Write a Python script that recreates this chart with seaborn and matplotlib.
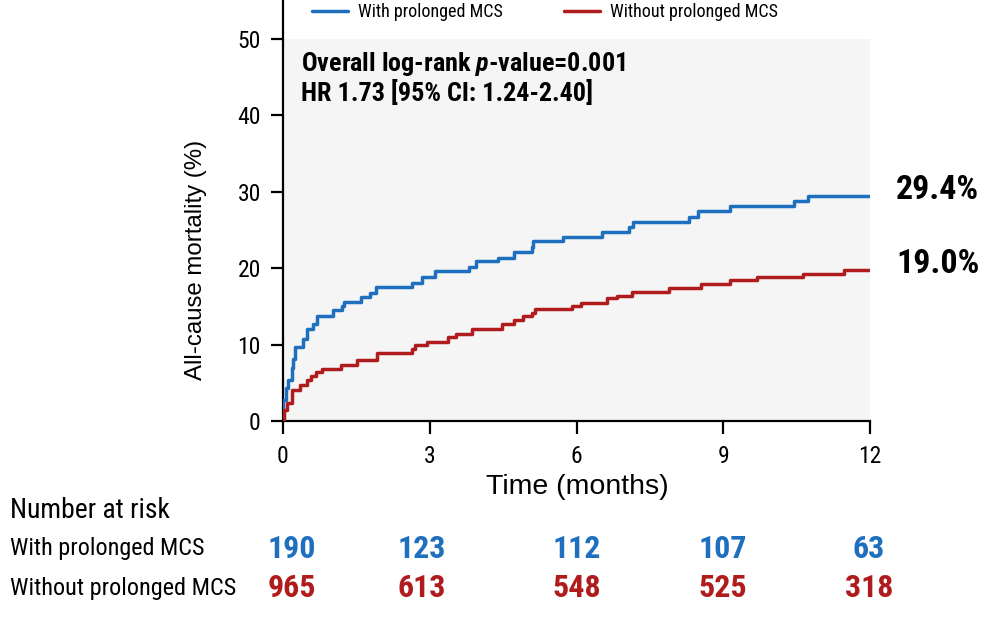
import matplotlib
matplotlib.use("Agg")
import matplotlib.pyplot as plt
from matplotlib import font_manager
from matplotlib.transforms import blended_transform_factory, offset_copy
import seaborn as sns
import pandas as pd

# ---------------- data ----------------
groups = ["With prolonged MCS", "Without prolonged MCS"]
blue_time = [0, 0.01, 0.055, 0.11, 0.18, 0.21, 0.25, 0.40, 0.50, 0.62, 0.69, 1.02, 1.20, 1.25,
             1.59, 1.78, 1.90, 2.64, 2.84, 3.11, 3.80, 3.95, 4.39, 4.72, 5.10, 5.12, 5.73,
             6.52, 7.08, 7.16, 8.29, 8.49, 9.14, 10.44, 10.74, 12.0]
blue_pct = [0, 2.7, 4.3, 5.4, 7.0, 8.1, 9.7, 10.7, 12.1, 12.7, 13.7, 14.5, 15.1, 15.6,
            16.2, 16.8, 17.5, 18.1, 18.8, 19.6, 20.2, 20.9, 21.4, 22.1, 22.8, 23.6, 24.1,
            24.8, 25.4, 26.1, 26.7, 27.5, 28.2, 28.8, 29.4, 29.4]
red_time = [0, 0.02, 0.08, 0.18, 0.35, 0.50, 0.57, 0.67, 0.79, 1.19, 1.52, 1.93, 2.63, 2.70,
            2.94, 3.38, 3.53, 3.86, 4.47, 4.72, 4.90, 5.09, 5.16, 5.90, 6.10, 6.62, 6.82,
            7.14, 7.89, 8.55, 9.13, 9.70, 10.64, 11.46, 12.0]
red_pct = [0, 1.4, 2.4, 4.0, 4.7, 5.4, 5.9, 6.4, 6.8, 7.3, 8.0, 8.9, 9.4, 9.9,
           10.3, 11.0, 11.4, 12.1, 12.7, 13.2, 13.7, 14.2, 14.7, 15.1, 15.5, 16.1, 16.3,
           16.9, 17.4, 17.9, 18.5, 18.8, 19.2, 19.7, 19.7]
end_labels = ["29.4%", "19.0%"]
x_ticks = [0, 3, 6, 9, 12]
y_ticks = [0, 10, 20, 30, 40, 50]
risk_blue = [190, 123, 112, 107, 63]
risk_red = [965, 613, 548, 525, 318]
annot_line1 = "Overall log-rank $p$-value=0.001"
annot_line2 = "HR 1.73 [95% CI: 1.24-2.40]"

colors = ["#1f6fbf", "#b01c1e"]

# ---------------- fonts ----------------
installed = {f.name for f in font_manager.fontManager.ttflist}
def pick(*names):
    for n in names:
        if n in installed:
            return n
    return "DejaVu Sans"
NARROW = pick("Liberation Sans Narrow", "Roboto Condensed", "Open Sans Condensed", "Liberation Sans")
REG = pick("Liberation Sans", "Arial", "DejaVu Sans")

sns.set_theme(style="ticks")
plt.rcParams["font.family"] = [NARROW, "DejaVu Sans"]
plt.rcParams["text.color"] = "black"
plt.rcParams["axes.labelcolor"] = "black"
plt.rcParams["xtick.color"] = "black"
plt.rcParams["ytick.color"] = "black"
plt.rcParams["mathtext.fontset"] = "custom"
plt.rcParams["mathtext.rm"] = f"{NARROW}:bold"
plt.rcParams["mathtext.it"] = f"{NARROW}:italic:bold"
plt.rcParams["mathtext.bf"] = f"{NARROW}:bold"

df = pd.concat([
    pd.DataFrame({"time": blue_time, "pct": blue_pct, "group": groups[0]}),
    pd.DataFrame({"time": red_time, "pct": red_pct, "group": groups[1]}),
])

W, H = 1006, 636
fig = plt.figure(figsize=(W / 100, H / 100), dpi=100)
ax = fig.add_axes([283 / W, 1 - 421 / H, (870 - 283) / W, 421 / H])
ax.set_facecolor("white")

ax.axhspan(0, 50, color="#f5f5f5", zorder=0, lw=0)

sns.lineplot(data=df, x="time", y="pct", hue="group", palette=colors,
             drawstyle="steps-post", estimator=None, sort=False, lw=2.5, ax=ax, zorder=3)

ax.set_xlim(0, 12)
ax.set_ylim(0, 421 / 7.64)
ax.set_xticks(x_ticks)
ax.set_yticks(y_ticks)
ax.tick_params(axis="both", direction="out", length=9, width=1.6, labelsize=17,
               color="black", labelcolor="black")
ax.tick_params(axis="x", pad=8)
ax.tick_params(axis="y", pad=7)
for s in ["top", "right"]:
    ax.spines[s].set_visible(False)
for s in ["left", "bottom"]:
    ax.spines[s].set_linewidth(1.6)
    ax.spines[s].set_color("black")

ax.set_xlabel("Time (months)", fontsize=20.5, family=[REG, "DejaVu Sans"])
ax.set_ylabel("All-cause mortality (%)", fontsize=17.3, family=[REG, "DejaVu Sans"])
ax.xaxis.set_label_coords((577 - 283) / 587, (421 - 474) / 421)
ax.yaxis.set_label_coords((207 - 283) / 587, (421 - 260) / 421)

# legend
handles, labels = ax.get_legend_handles_labels()
ax.legend(handles, labels, loc="center left", bbox_to_anchor=(312 / W, 1 - 12 / H),
          bbox_transform=fig.transFigure, ncol=2, frameon=False, fontsize=13,
          handlelength=2.0, handletextpad=0.55, columnspacing=3.4,
          borderpad=0, borderaxespad=0)

# annotation
fig.text(301 / W, 1 - 64 / H, annot_line1, fontsize=18.8, fontweight="bold",
         ha="left", va="center")
fig.text(301 / W, 1 - 93 / H, annot_line2, fontsize=18.8, fontweight="bold",
         ha="left", va="center")

# end labels
finals = [blue_pct[-1], red_pct[-1]]
offs = [6, 6]
for lab, v, o in zip(end_labels, finals, offs):
    ax.annotate(lab, xy=(12, v), xytext=(26, o), textcoords="offset pixels",
                fontsize=24.5, fontweight="bold", ha="left", va="center",
                annotation_clip=False)

# risk table
tr = blended_transform_factory(ax.transData, fig.transFigure)
fig.text(10 / W, 1 - 511 / H, "Number at risk", fontsize=19.9, ha="left", va="center")
fig.text(10 / W, 1 - 549 / H, groups[0], fontsize=17.4, ha="left", va="center")
fig.text(10 / W, 1 - 588 / H, groups[1], fontsize=17.5, ha="left", va="center")
col_shift = [9, -8, 0, 0, -1]
for t, b, r, dx in zip(x_ticks, risk_blue, risk_red, col_shift):
    ttr = offset_copy(tr, fig=fig, x=dx, y=0, units="dots")
    ax.text(t, 1 - 549 / H, str(b), transform=ttr, fontsize=23, fontweight="bold",
            color=colors[0], ha="center", va="center")
    ax.text(t, 1 - 588 / H, str(r), transform=ttr, fontsize=23, fontweight="bold",
            color=colors[1], ha="center", va="center")

fig.savefig("out.png", dpi=100)
